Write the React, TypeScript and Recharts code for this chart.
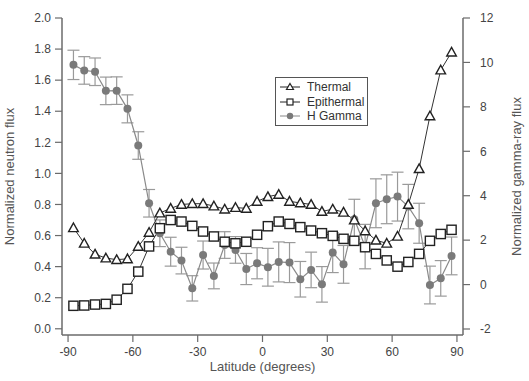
import React from 'react';
import {
  LineChart,
  Line,
  XAxis,
  YAxis,
  ErrorBar,
  Label,
} from 'recharts';

const latitude = [
  -87.5, -82.5, -77.5, -72.5, -67.5, -62.5, -57.5, -52.5, -47.5, -42.5, -37.5, -32.5,
  -27.5, -22.5, -17.5, -12.5, -7.5, -2.5, 2.5, 7.5, 12.5, 17.5, 22.5, 27.5,
  32.5, 37.5, 42.5, 47.5, 52.5, 57.5, 62.5, 67.5, 72.5, 77.5, 82.5, 87.5,
];

const thermal = [
  0.65, 0.55, 0.48, 0.455, 0.445, 0.45, 0.53, 0.62, 0.745, 0.775, 0.8, 0.805,
  0.805, 0.79, 0.77, 0.78, 0.775, 0.82, 0.85, 0.865, 0.82, 0.81, 0.8, 0.755,
  0.77, 0.75, 0.7, 0.63, 0.57, 0.55, 0.595, 0.8, 1.03, 1.37, 1.665, 1.78,
];

const epithermal = [
  0.148, 0.15, 0.156, 0.16, 0.187, 0.257, 0.368, 0.53, 0.647, 0.7, 0.69, 0.662,
  0.626, 0.594, 0.56, 0.55, 0.56, 0.605, 0.66, 0.69, 0.675, 0.654, 0.632, 0.615,
  0.598, 0.579, 0.566, 0.525, 0.482, 0.44, 0.4, 0.43, 0.482, 0.566, 0.61, 0.637,
];

const hGamma = [
  9.89, 9.64, 9.58, 8.72, 8.73, 7.91, 6.26, 3.66, 2.31, 1.48, 1.08, -0.17,
  1.33, 0.39, 1.78, 1.56, 0.7, 0.96, 0.78, 1.02, 0.99, 0.24, 0.66, 0.01,
  1.44, 0.91, 2.94, 1.71, 3.66, 3.84, 3.96, 3.51, 2.76, -0.02, 0.28, 1.29,
];

const hGammaErr = [
  0.66, 0.62, 0.62, 0.62, 0.62, 0.63, 0.62, 0.62, 0.6, 0.65, 0.6, 0.57,
  0.63, 0.58, 0.6, 0.6, 0.7, 0.7, 0.85, 0.9, 0.9, 0.8, 0.8, 0.8,
  0.9, 0.85, 0.9, 1.0, 1.1, 1.1, 1.1, 1.0, 0.9, 0.85, 0.8, 0.85,
];

const seriesNames = ['Thermal', 'Epithermal', 'H Gamma'];
const xTicks = [-90, -60, -30, 0, 30, 60, 90];
const leftTicks = [0, 0.2, 0.4, 0.6, 0.8, 1.0, 1.2, 1.4, 1.6, 1.8, 2.0];
const rightTicks = [-2, 0, 2, 4, 6, 8, 10, 12];

const data = latitude.map((lat, i) => ({
  lat,
  thermal: thermal[i],
  epithermal: epithermal[i],
  hGamma: hGamma[i],
  hGammaErr: hGammaErr[i],
}));

const FONT = '"Liberation Sans", Arial, sans-serif';
const AXIS = '#6b6b6b';
const TEXT = '#444';

const Triangle = (props: any) => {
  const { cx, cy } = props;
  if (cx == null || cy == null) return <g key={props.key} />;
  const s = 4.8;
  return (
    <path
      key={props.key}
      d={`M${cx},${cy - s} L${cx + s},${cy + s * 0.8} L${cx - s},${cy + s * 0.8} Z`}
      fill="#fff"
      stroke="#222"
      strokeWidth={1.4}
    />
  );
};

const Square = (props: any) => {
  const { cx, cy } = props;
  if (cx == null || cy == null) return <g key={props.key} />;
  const s = 4.6;
  return (
    <rect
      key={props.key}
      x={cx - s}
      y={cy - s}
      width={s * 2}
      height={s * 2}
      fill="#fff"
      stroke="#222"
      strokeWidth={1.4}
    />
  );
};

// boxed legend like the original, sits over the plot
const LegendBox = () => (
  <div
    style={{
      position: 'absolute',
      left: 275,
      top: 77,
      width: 93,
      height: 49,
      border: '1.5px solid #555',
      background: '#fff',
      fontFamily: FONT,
      fontSize: 12,
      color: '#333',
      boxSizing: 'border-box',
      padding: '2px 0 0 3px',
      lineHeight: '14.5px',
      whiteSpace: 'nowrap',
    }}
  >
    {seriesNames.map((name, i) => (
      <div key={name} style={{ display: 'flex', alignItems: 'center' }}>
        <svg width={23} height={12} style={{ marginRight: 5, flexShrink: 0 }}>
          <line x1={1} y1={6} x2={21} y2={6} stroke={i === 2 ? '#888' : '#222'} strokeWidth={1} />
          {i === 0 && <path d="M11,2.5 L14.5,8.5 L7.5,8.5 Z" fill="#fff" stroke="#222" strokeWidth={1.2} />}
          {i === 1 && <rect x={8} y={3} width={6} height={6} fill="#fff" stroke="#222" strokeWidth={1.2} />}
          {i === 2 && <circle cx={11} cy={6} r={3.2} fill="#7a7a7a" />}
        </svg>
        <span>{name}</span>
      </div>
    ))}
  </div>
);

export default function App() {
  return (
    <div style={{ position: 'fixed', left: 0, top: 0, width: 529, height: 381, background: '#fff' }}>
      <LineChart
        width={529}
        height={381}
        data={data}
        margin={{ top: 18, right: 16, left: 12, bottom: 16 }}
      >
        <XAxis
          dataKey="lat"
          type="number"
          domain={[-92.8, 92.8]}
          ticks={xTicks}
          allowDataOverflow
          height={30}
          tickSize={7}
          tickMargin={5}
          axisLine={{ stroke: AXIS, strokeWidth: 1.5 }}
          tickLine={{ stroke: AXIS, strokeWidth: 1.2 }}
          tick={{ fontSize: 12, fill: TEXT, fontFamily: FONT }}
        >
          <Label
            value="Latitude (degrees)"
            position="bottom"
            offset={-3}
            style={{ fontSize: 13, fill: '#555', fontFamily: FONT }}
          />
        </XAxis>
        <YAxis
          yAxisId="left"
          orientation="left"
          domain={[-0.04, 2.0]}
          ticks={leftTicks}
          allowDataOverflow
          width={50}
          tickSize={7}
          tickMargin={4}
          tickFormatter={(v: number) => v.toFixed(1)}
          axisLine={{ stroke: AXIS, strokeWidth: 1.5 }}
          tickLine={{ stroke: AXIS, strokeWidth: 1.2 }}
          tick={{ fontSize: 12, fill: TEXT, fontFamily: FONT }}
        >
          <Label
            value="Normalized neutron flux"
            angle={-90}
            position="insideLeft"
            offset={-3}
            style={{ textAnchor: 'middle', fontSize: 13, fill: '#555', fontFamily: FONT }}
          />
        </YAxis>
        <YAxis
          yAxisId="right"
          orientation="right"
          domain={[-2.27, 12]}
          ticks={rightTicks}
          allowDataOverflow
          width={50}
          tickSize={7}
          tickMargin={10}
          axisLine={{ stroke: AXIS, strokeWidth: 1.5 }}
          tickLine={{ stroke: AXIS, strokeWidth: 1.2 }}
          tick={{ fontSize: 12, fill: TEXT, fontFamily: FONT }}
        >
          <Label
            value="Normalized gamma-ray flux"
            angle={-90}
            position="insideRight"
            offset={-3}
            style={{ textAnchor: 'middle', fontSize: 13, fill: '#555', fontFamily: FONT }}
          />
        </YAxis>
        <Line
          yAxisId="right"
          dataKey="hGamma"
          stroke="#8a8a8a"
          strokeWidth={1.2}
          dot={{ r: 4, fill: '#7a7a7a', stroke: '#7a7a7a', strokeWidth: 0 }}
          isAnimationActive={false}
        >
          <ErrorBar dataKey="hGammaErr" direction="y" width={6} stroke="#9a9a9a" strokeWidth={1.2} />
        </Line>
        <Line
          yAxisId="left"
          dataKey="epithermal"
          stroke="#333"
          strokeWidth={1}
          dot={Square}
          isAnimationActive={false}
        />
        <Line
          yAxisId="left"
          dataKey="thermal"
          stroke="#333"
          strokeWidth={1}
          dot={Triangle}
          isAnimationActive={false}
        />
      </LineChart>
      <LegendBox />
    </div>
  );
}
